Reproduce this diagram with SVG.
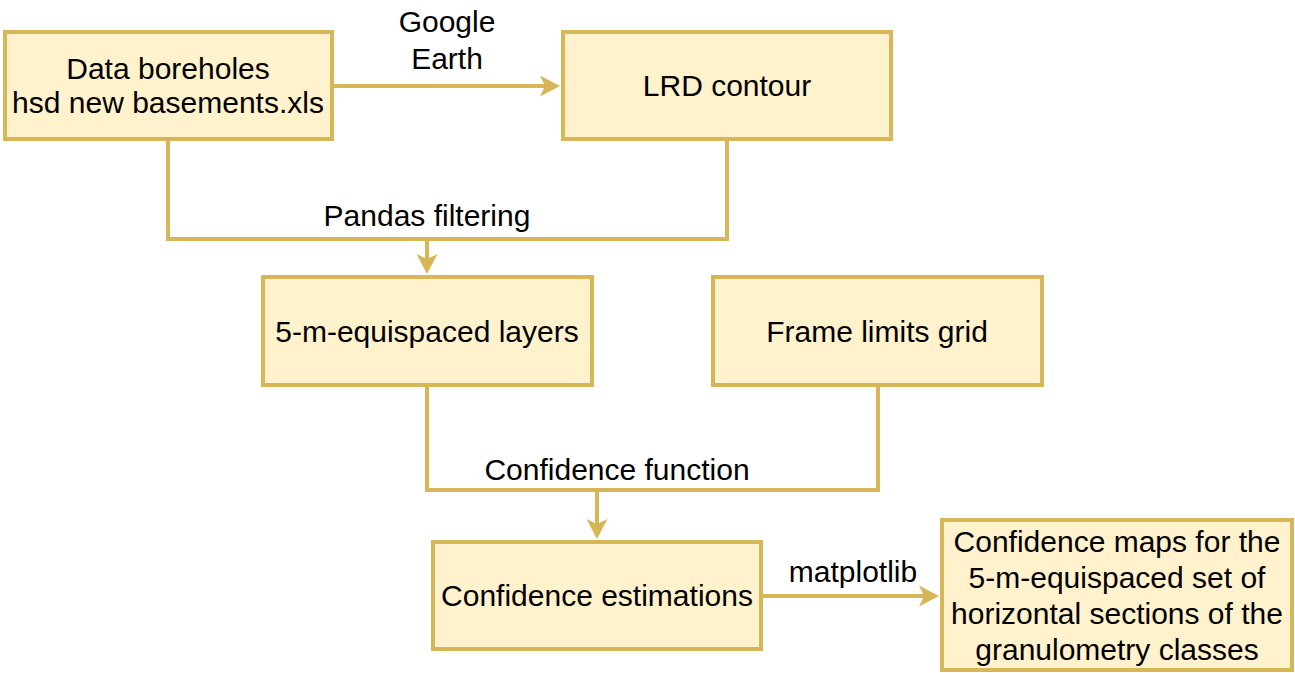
<svg xmlns="http://www.w3.org/2000/svg" width="1295" height="673" viewBox="0 0 1295 673">
<defs>
<style>
.node rect{fill:#fff2cc;stroke:#d6b656;stroke-width:4}
.edge{fill:none;stroke:#d6b656;stroke-width:4}
text{font-family:"Liberation Sans",Arial,sans-serif;font-size:30px;fill:#000;text-anchor:middle}
</style>
<marker id="arr" markerUnits="userSpaceOnUse" markerWidth="24" markerHeight="24" viewBox="0 -12 24 24" refX="5" refY="0" orient="auto">
<path d="M0,-10.5 L20,0 L0,10.5 L5,0 Z" fill="#d6b656"/>
</marker>
</defs>
<rect width="1295" height="673" fill="#fff"/>
<g id="connectors">
<path class="edge" d="M332,86 L545,86" marker-end="url(#arr)"/>
<path class="edge" d="M168,139 L168,239 L727,239 L727,139"/>
<path class="edge" d="M427,239 L427,259" marker-end="url(#arr)"/>
<path class="edge" d="M427,385 L427,490 L878,490 L878,385"/>
<path class="edge" d="M597,490 L597,524" marker-end="url(#arr)"/>
<path class="edge" d="M762,596 L924,596" marker-end="url(#arr)"/>
<text x="447" y="32">Google</text>
<text x="447" y="69">Earth</text>
<text x="427" y="226">Pandas filtering</text>
<text x="617" y="480">Confidence function</text>
<text x="853" y="582">matplotlib</text>
</g>
<g id="n1" class="node">
<rect x="5" y="32" width="327" height="107"/>
<text x="168" y="79">Data boreholes</text>
<text x="168" y="113">hsd new basements.xls</text>
</g>
<g id="n2" class="node">
<rect x="563" y="32" width="328" height="107"/>
<text x="727" y="96">LRD contour</text>
</g>
<g id="n3" class="node">
<rect x="263" y="277" width="329" height="108"/>
<text x="427" y="342">5-m-equispaced layers</text>
</g>
<g id="n4" class="node">
<rect x="713" y="277" width="329" height="108"/>
<text x="877" y="342">Frame limits grid</text>
</g>
<g id="n5" class="node">
<rect x="433" y="542" width="328" height="107"/>
<text x="597" y="606">Confidence estimations</text>
</g>
<g id="n6" class="node">
<rect x="942" y="520" width="350" height="150"/>
<text x="1117" y="552">Confidence maps for the</text>
<text x="1117" y="588">5-m-equispaced set of</text>
<text x="1117" y="624">horizontal sections of the</text>
<text x="1117" y="660">granulometry classes</text>
</g>
</svg>
